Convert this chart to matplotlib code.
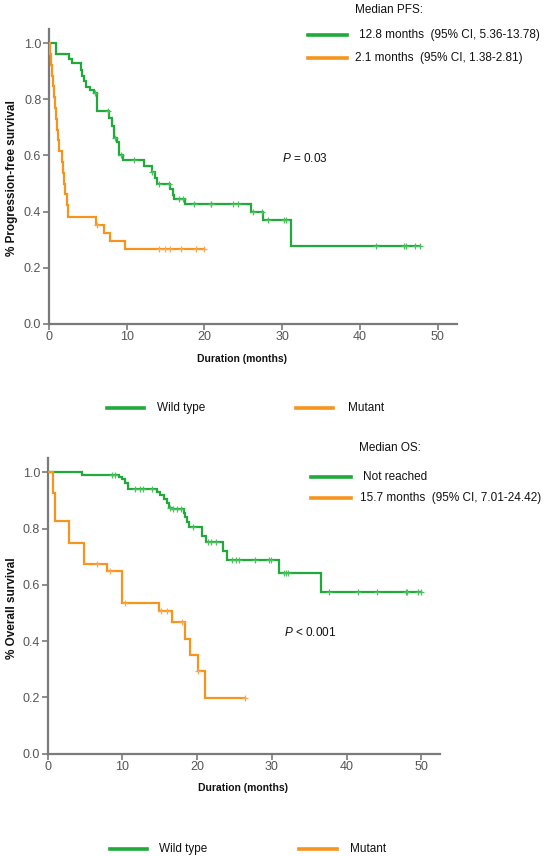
import numpy as np
import matplotlib
matplotlib.use("Agg")
import matplotlib.pyplot as plt
from matplotlib.lines import Line2D

plt.rcParams['font.family'] = ['Liberation Sans', 'DejaVu Sans']
plt.rcParams['mathtext.fontset'] = 'custom'
plt.rcParams['mathtext.it'] = 'Liberation Sans:italic'
plt.rcParams['mathtext.rm'] = 'Liberation Sans'

# ---------------- data ----------------
# PFS, wild type
pfs_wt_t = [0, 0.9, 2.6, 2.9, 4.1, 4.3, 4.5, 4.7, 5.3, 5.8, 6.2, 7.7, 8.1, 8.3, 8.7, 9.0, 9.5,
            12.2, 13.2, 13.6, 13.9, 15.6, 15.9, 16.1, 17.5, 26.0, 27.5, 31.1, 47.7]
pfs_wt_s = [1.0, 0.962, 0.945, 0.93, 0.906, 0.885, 0.865, 0.844, 0.835, 0.822, 0.76, 0.733, 0.706, 0.664,
            0.648, 0.60, 0.585, 0.564, 0.54, 0.52, 0.50, 0.48, 0.46, 0.445, 0.426, 0.40, 0.37, 0.277, 0.277]
pfs_wt_cens = [5.9, 7.6, 8.5, 9.3, 10.9, 13.3, 14.2, 15.4, 16.7, 17.2, 18.6, 20.8, 20.9, 23.7, 24.3,
               26.3, 27.4, 28.2, 30.2, 30.5, 42.1, 45.7, 45.9, 47.1, 47.7]

# PFS, mutant
pfs_mu_t = [0, 0.15, 0.3, 0.4, 0.55, 0.65, 0.75, 0.9, 1.05, 1.2, 1.35, 1.65, 1.8, 1.9, 2.0, 2.3, 2.5,
            6.1, 7.1, 7.9, 9.8, 19.9]
pfs_mu_s = [1.0, 0.962, 0.923, 0.885, 0.846, 0.808, 0.769, 0.731, 0.692, 0.654, 0.615, 0.577, 0.538,
            0.5, 0.462, 0.423, 0.38, 0.352, 0.323, 0.295, 0.266, 0.266]
pfs_mu_cens = [6.2, 14.1, 14.9, 15.6, 17.0, 18.9, 19.9]

# OS, wild type
os_wt_t = [0, 4.6, 9.6, 10.0, 10.3, 10.8, 14.6, 15.0, 15.6, 16.0, 16.3, 16.6, 18.2, 18.4, 18.6, 18.9,
           20.6, 21.2, 23.4, 24.0, 31.0, 36.6, 50.0]
os_wt_s = [1.0, 0.99, 0.985, 0.975, 0.963, 0.94, 0.93, 0.92, 0.905, 0.89, 0.875, 0.868, 0.855, 0.84,
           0.825, 0.807, 0.775, 0.751, 0.72, 0.69, 0.641, 0.576, 0.576]
os_wt_cens = [8.6, 9.0, 11.7, 12.3, 12.8, 13.9, 16.4, 16.8, 17.3, 17.8, 19.5, 21.5, 21.8, 22.5, 24.7,
              25.2, 25.6, 27.7, 29.6, 29.9, 31.6, 31.9, 32.2, 37.6, 41.5, 44.1, 47.9, 48.1, 49.5, 50.0]

# OS, mutant
os_mu_t = [0, 0.75, 1.0, 2.9, 4.9, 7.9, 9.9, 14.9, 16.6, 18.4, 19.0, 20.1, 21.0, 26.4]
os_mu_s = [1.0, 0.925, 0.826, 0.749, 0.674, 0.648, 0.535, 0.506, 0.467, 0.408, 0.349, 0.292, 0.196, 0.196]
os_mu_cens = [6.6, 8.4, 10.4, 15.1, 15.9, 18.0, 20.1, 26.4]

x_ticks = [0, 10, 20, 30, 40, 50]
y_ticks = [0.0, 0.2, 0.4, 0.6, 0.8, 1.0]

GREEN = '#1faa3a'
ORANGE = '#f7941d'
GREEN_C = '#4cc05e'
ORANGE_C = '#f8a850'
AXC = '#7a7a7a'

W, H = 544, 856
fig = plt.figure(figsize=(W / 100, H / 100), dpi=100)


def step_val(t, s, x):
    idx = np.searchsorted(np.asarray(t), x, side='right') - 1
    return np.asarray(s)[np.clip(idx, 0, len(s) - 1)]


def km(ax, t, s, cens, color, ccolor):
    ax.step(t, s, where='post', color=color, lw=1.6, solid_joinstyle='miter', zorder=3)
    cy = step_val(t, s, np.asarray(cens))
    ax.plot(cens, cy, ls='none', marker='+', ms=4.5, mew=0.9, color=ccolor, zorder=4)


def style(ax):
    ax.set_xlim(0, 52.5)
    ax.set_ylim(0, 1.05)
    for sp in ['top', 'right']:
        ax.spines[sp].set_visible(False)
    for sp in ['left', 'bottom']:
        ax.spines[sp].set_color(AXC)
        ax.spines[sp].set_linewidth(1.6)
    ax.set_xticks(x_ticks)
    ax.set_yticks(y_ticks)
    ax.set_yticklabels(['%.1f' % v for v in y_ticks])
    ax.tick_params(direction='out', length=4, width=1.2, color=AXC, labelcolor='#555555',
                   labelsize=9, pad=1.5)
    ax.patch.set_alpha(0)


def px(x, y):
    return x / W, 1 - y / H


def fig_line(x0, x1, y, color):
    (a, b), (c, _) = px(x0, y), px(x1, y)
    fig.add_artist(Line2D([a, c], [b, b], color=color, lw=2.6, transform=fig.transFigure))


def fig_txt(x, y, s, **kw):
    a, b = px(x, y)
    fig.text(a, b, s, va='center', **kw)


# ---------- top panel ----------
ax1 = fig.add_axes([49 / W, 1 - 323.7 / H, (457 - 49) / W, (323.7 - 29.3) / H])
km(ax1, pfs_wt_t, pfs_wt_s, pfs_wt_cens, GREEN, GREEN_C)
km(ax1, pfs_mu_t, pfs_mu_s, pfs_mu_cens, ORANGE, ORANGE_C)
style(ax1)

fig_txt(354.7, 10, 'Median PFS:', fontsize=8.5, color='#111111')
fig_line(307.7, 347, 35, GREEN)
fig_txt(359.3, 35, '12.8 months  (95% CI, 5.36-13.78)', fontsize=8.5, color='#111111')
fig_line(307.7, 347, 58.3, ORANGE)
fig_txt(355.3, 58.3, '2.1 months  (95% CI, 1.38-2.81)', fontsize=8.5, color='#111111')
fig_txt(281.7, 159, r'$\it{P}$ = 0.03', fontsize=8.5, color='#111111')
fig_txt(242.3, 359, 'Duration (months)', fontsize=7.5, fontweight='bold', ha='center', color='#111111')
fig_txt(12, 178, '% Progression-free survival', fontsize=8.5, fontweight='bold', ha='center',
        rotation=90, color='#111111')
fig_line(106.7, 144, 408.3, GREEN)
fig_txt(156.7, 408.3, 'Wild type', fontsize=8.5, color='#111111')
fig_line(296, 333.3, 408.3, ORANGE)
fig_txt(347.7, 408.3, 'Mutant', fontsize=8.5, color='#111111')

# ---------- bottom panel ----------
ax2 = fig.add_axes([47.7 / W, 1 - 753.5 / H, (440 - 47.7) / W, (753.5 - 458.3) / H])
km(ax2, os_wt_t, os_wt_s, os_wt_cens, GREEN, GREEN_C)
km(ax2, os_mu_t, os_mu_s, os_mu_cens, ORANGE, ORANGE_C)
style(ax2)

fig_txt(358.7, 448.3, 'Median OS:', fontsize=8.5, color='#111111')
fig_line(311.3, 351, 476.7, GREEN)
fig_txt(363, 476.7, 'Not reached', fontsize=8.5, color='#111111')
fig_line(311.3, 351, 498.3, ORANGE)
fig_txt(360.3, 498.3, '15.7 months  (95% CI, 7.01-24.42)', fontsize=8.5, color='#111111')
fig_txt(284, 633, r'$\it{P}$ < 0.001', fontsize=8.5, color='#111111')
fig_txt(243.3, 788.3, 'Duration (months)', fontsize=7.5, fontweight='bold', ha='center', color='#111111')
fig_txt(12, 608, '% Overall survival', fontsize=8.5, fontweight='bold', ha='center',
        rotation=90, color='#111111')
fig_line(110, 146.7, 849, GREEN)
fig_txt(159, 849, 'Wild type', fontsize=8.5, color='#111111')
fig_line(299, 336.7, 849, ORANGE)
fig_txt(350, 849, 'Mutant', fontsize=8.5, color='#111111')

fig.savefig('out.png', dpi=100, facecolor='white')
